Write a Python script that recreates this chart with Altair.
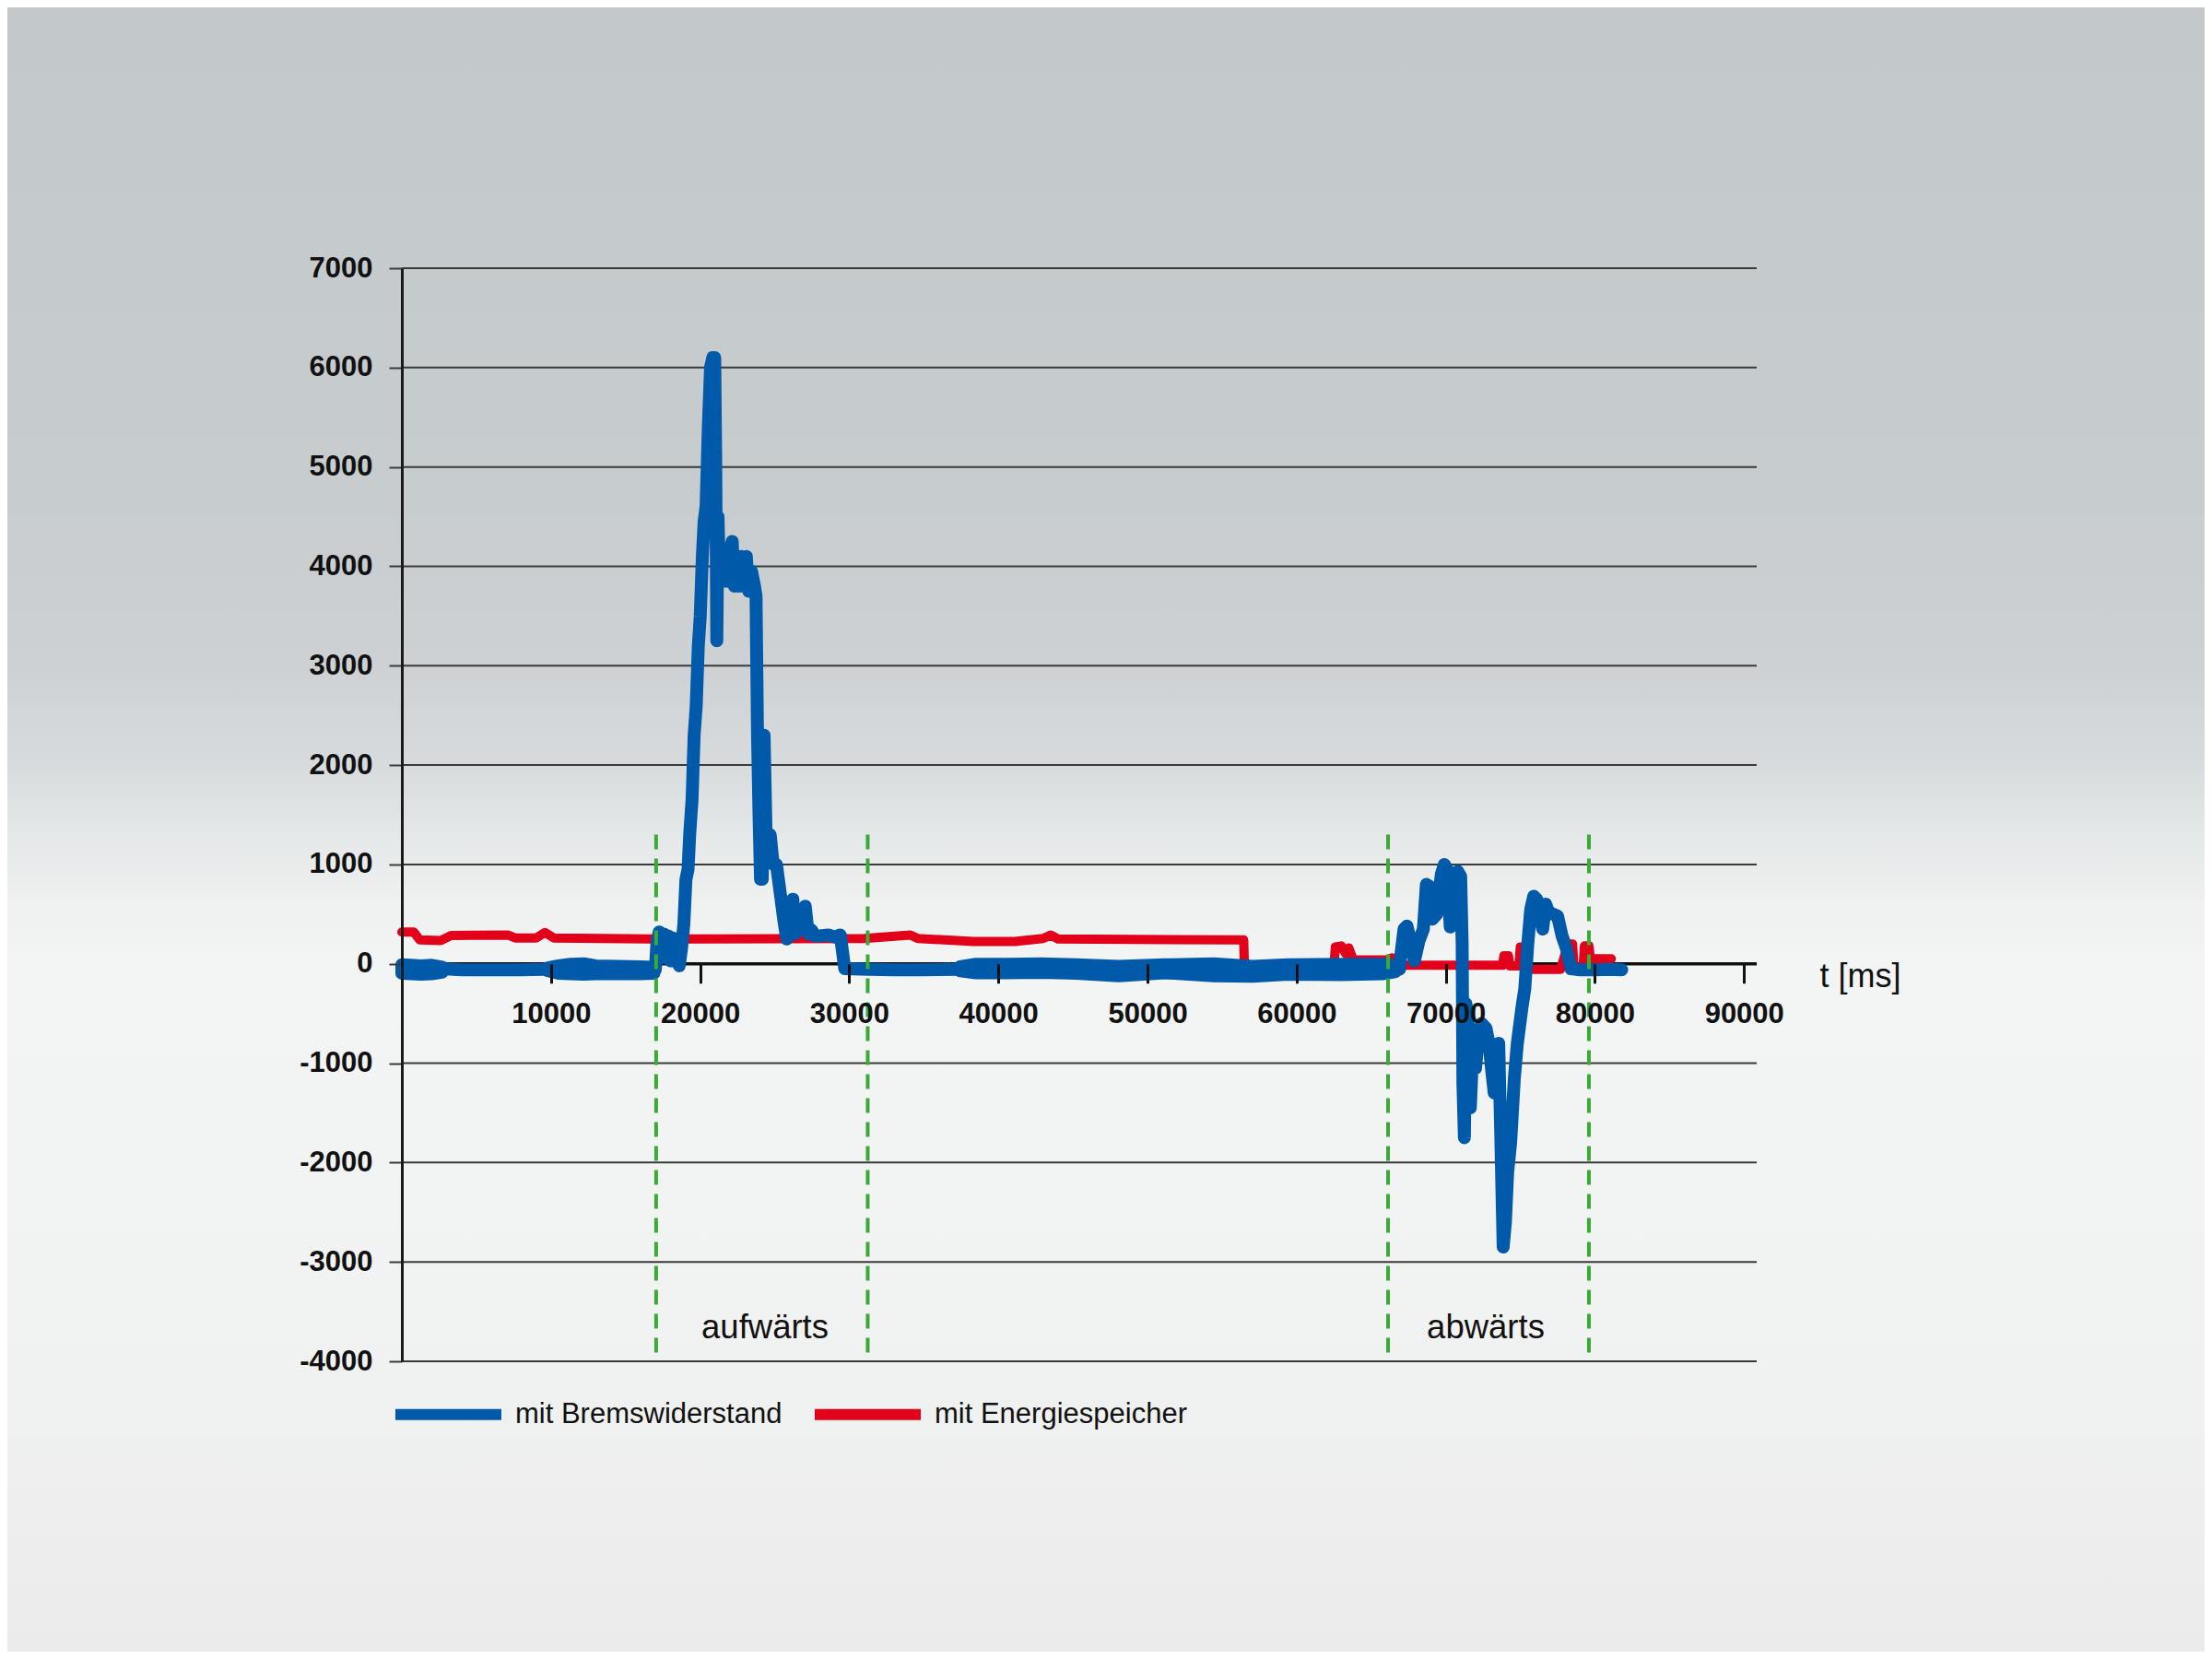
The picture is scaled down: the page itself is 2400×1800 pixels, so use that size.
import altair as alt
import pandas as pd

BLUE = "#005aa9"
RED = "#e3001b"
GREEN = "#3ba935"
INK = "#111111"
GRID = "#3a3a3a"
FONT = "Liberation Sans"

series_names = ["mit Bremswiderstand", "mit Energiespeicher"]

# --- blue series: mit Bremswiderstand (t in ms, value) ---
blue_t = [0, 1500, 2700, 4000, 6000, 8000, 9500, 10500, 12000, 13500, 15000, 16500, 17000,
          17100, 17250, 17400, 17550, 17700, 17850, 18000, 18150, 18300, 18450, 18600,
          18750, 18910, 19050, 19190, 19300, 19460, 19600, 19740, 19880, 20010, 20150, 20270,
          20400, 20550, 20700, 20850, 20980, 21050,
          21120, 21200, 21300, 21450, 21550, 21700, 21850, 22000, 22150, 22300, 22450, 22600,
          22750, 22900, 23100, 23250, 23450, 23650, 23750,
          23850, 23950, 24050, 24170, 24290, 24430, 24700, 24900, 25120, 25400, 25600, 25810,
          26000, 26220, 26350, 26500, 26800, 27050, 27250, 27470, 27700, 28020, 28600, 29000,
          29400, 29550, 29700,
          31300, 33000, 35000, 37400, 40000, 45000, 50000, 55000, 60000, 63000, 66000, 66900,
          67000, 67200, 67400, 67600, 67900, 68200, 68500, 68700, 68900, 69100, 69400, 69700,
          69900, 70100, 70300, 70500, 70800, 71000,
          71100, 71150, 71250, 71350, 71500, 71650, 71800, 72000, 72200, 72400, 72700, 72900,
          73100, 73250, 73400, 73550, 73700, 73850, 74000, 74150, 74350, 74600, 74800, 75100, 75300,
          75500, 75700, 75900, 76100, 76300, 76500, 76700, 76900, 77200, 77500, 77800, 78100,
          78400, 79000, 80000, 81000, 81800]
blue_v = [-50, -55, -50, -60, -60, -60, -55, -45, -35, -50, -55, -60, -60,
          200, 320, 60, 300, 80, 280, 30, 260, 50, 200, -20,
          150, 400, 850, 950, 1300, 1650, 2300, 2600, 3200, 3500, 4100, 4450,
          4600, 5400, 6000, 6100, 6100, 5000,
          3250, 4500, 3900, 4150, 3850, 4100, 3850, 4150, 4250, 3800, 4050, 3800,
          4100, 3800, 4100, 3750, 3950, 3800, 3700,
          2300, 1500, 850, 850, 2300, 1250, 1300, 1000, 1000, 680, 450, 250,
          400, 650, 300, 350, 450, 580, 300, 340, 280, 280, 290, 270,
          290, 120, -50,
          -55, -60, -60, -55, -50, -55, -50, -55, -55, -50, -55, -55,
          100, 350, 380, 250, 30, 230, 350, 800, 780, 450, 500, 900,
          1000, 950, 370, 700, 930, 880,
          200, -1200, -1750, -400, -600, -1450, -900, -1050, -700, -600, -650, -800,
          -1100, -1300, -900, -800, -1800, -2850, -2600, -2100, -1800, -1150, -800, -450, -250,
          200, 550, 680, 650, 520, 350, 600, 520, 500, 480, 280, 150,
          -50, -60, -60, -55, -60]

# noisy stretches of the blue series, drawn as min/max envelope
band_seg = ["a"] * 5 + ["b"] * 8 + ["c"] * 13
band_t = [0, 600, 1300, 2000, 2700,
          9800, 10500, 11300, 12200, 13000, 14500, 16000, 16900,
          37430, 38500, 40480, 42870, 45230, 48070, 51150, 54450, 57050, 59420, 62980, 65760, 66600]
band_hi = [-10, -15, -20, -15, -35,
           -40, -20, -5, 0, -20, -25, -30, -35,
           -30, -5, -5, 0, -10, -25, -10, 0, -25, -10, -5, -5, -20]
band_lo = [-95, -100, -105, -100, -85,
           -70, -95, -100, -105, -100, -100, -100, -95,
           -70, -90, -90, -85, -95, -120, -90, -120, -125, -105, -110, -100, -80]

# --- red series: mit Energiespeicher ---
red_t = [0, 800, 1200, 2600, 3300, 7100, 7600, 9000, 9600, 10200, 16600, 31000, 34100, 34600,
         38300, 41100, 43000, 43500, 44000, 56300, 56450, 56500, 62500, 62600, 63000, 63300,
         63500, 63800, 66000, 66400, 66800, 73800, 73900, 74200, 74300, 74900, 75000, 75300,
         75350, 77700, 78200, 78500, 78600, 79200, 79300, 79600, 79700, 81100]
red_v = [320, 320, 240, 235, 285, 290, 260, 260, 315, 260, 250, 255, 290, 255,
         225, 225, 255, 290, 250, 240, 240, -20, -20, 170, 180, 100,
         160, 40, 40, 60, -15, -15, 80, 80, -20, -20, 170, 170,
         -55, -55, 200, 200, -50, -50, 180, 180, 50, 50]

y_ticks = [-4000, -3000, -2000, -1000, 0, 1000, 2000, 3000, 4000, 5000, 6000, 7000]
x_ticks = [10000, 20000, 30000, 40000, 50000, 60000, 70000, 80000, 90000]

phase_t = [17050, 31240, 66130, 79600]
phase_top = 1300
phase_bottom = -4000

ann_text = ["aufwärts", "abwärts"]
ann_t = [24350, 72680]
ann_v = [-3670, -3670]

# --- frames ---
lines = pd.concat([
    pd.DataFrame({"t": blue_t, "v": blue_v, "s": series_names[0]}),
    pd.DataFrame({"t": red_t, "v": red_v, "s": series_names[1]}),
])
band = pd.DataFrame({"seg": band_seg, "t": band_t, "hi": band_hi, "lo": band_lo})
grid = pd.DataFrame({"v": [v for v in y_ticks if v != 0]})
phases = pd.DataFrame({"t": phase_t, "top": phase_top, "bottom": phase_bottom})
anns = pd.DataFrame({"label": ann_text, "t": ann_t, "v": ann_v})
one = pd.DataFrame({"a": [0]})

W, H = 1470, 1186
X_MAX = 90850
zero_offset = -(H * 4000 / 11000)

xs = alt.Scale(domain=[0, X_MAX], nice=False, zero=False)
ys = alt.Scale(domain=[-4000, 7000], nice=False, zero=False)

x_axis = alt.Axis(values=x_ticks, offset=zero_offset, domain=False, grid=False,
                  tickColor=INK, tickWidth=3, tickSize=21,
                  labelFont=FONT, labelFontWeight="bold", labelFontSize=31, labelColor=INK,
                  labelBaseline="middle", labelPadding=34, labelFlush=False, labelOverlap=False,
                  labelExpr="datum.value + ''",
                  title="t [ms]", titleFont=FONT, titleFontSize=36, titleFontWeight="normal",
                  titleColor=INK, titleX=1538, titleY=14, titleAlign="left",
                  titleBaseline="middle", titleAngle=0, zindex=1)
y_axis = alt.Axis(values=y_ticks, domain=True, domainColor="#1a1a1a", domainWidth=3,
                  grid=False, tickColor=GRID, tickWidth=2, tickSize=14,
                  labelFont=FONT, labelFontWeight="bold", labelFontSize=31, labelColor=INK,
                  labelPadding=18, labelExpr="datum.value + ''", title=None, zindex=1)

X = lambda f: alt.X(f, scale=xs, axis=x_axis)
Y = lambda f: alt.Y(f, scale=ys, axis=y_axis)

gradient = alt.LinearGradient(
    gradient="linear", x1=0, x2=0, y1=0, y2=1,
    stops=[
        alt.GradientStop(color="#c3c8cb", offset=0.0),
        alt.GradientStop(color="#c7ccce", offset=0.30),
        alt.GradientStop(color="#cdd1d3", offset=0.40),
        alt.GradientStop(color="#d8dbdd", offset=0.46),
        alt.GradientStop(color="#e4e7e7", offset=0.50),
        alt.GradientStop(color="#eef0f0", offset=0.54),
        alt.GradientStop(color="#f3f4f4", offset=0.58),
        alt.GradientStop(color="#f1f2f2", offset=0.8),
        alt.GradientStop(color="#ebebeb", offset=1.0),
    ],
)

bg = alt.Chart(one).mark_rect(color=gradient).encode(
    x=alt.value(-428), x2=alt.value(W + 486), y=alt.value(-283), y2=alt.value(H + 315)
)

grid_layer = alt.Chart(grid).mark_rule(color=GRID, strokeWidth=2).encode(y=Y("v:Q"))
zero_layer = alt.Chart(one).mark_rule(color=INK, strokeWidth=3.5).encode(
    y=alt.Y(datum=0, scale=ys, axis=y_axis))

color = alt.Color("s:N", scale=alt.Scale(domain=series_names, range=[BLUE, RED]),
                  legend=alt.Legend(orient="none", legendX=-13, legendY=1180, direction="horizontal",
                                    title=None, symbolType="stroke", symbolSize=13225,
                                    symbolStrokeWidth=12, labelFont=FONT, labelFontSize=31,
                                    labelColor=INK, labelOffset=9, columnPadding=11,
                                    labelLimit=0))

red_layer = alt.Chart(lines).transform_filter(alt.datum.s == series_names[1]).mark_line(
    strokeWidth=10, strokeCap="round", strokeJoin="round"
).encode(x=X("t:Q"), y=Y("v:Q"), color=color, order="t:Q")

band_layer = alt.Chart(band).mark_area(
    color=BLUE, stroke=BLUE, strokeWidth=14, strokeJoin="round", opacity=1
).encode(x=X("t:Q"), y=Y("hi:Q"), y2="lo:Q", detail="seg:N")

blue_layer = alt.Chart(lines).transform_filter(alt.datum.s == series_names[0]).mark_line(
    strokeWidth=14, strokeCap="round", strokeJoin="round"
).encode(x=X("t:Q"), y=Y("v:Q"), color=color, order="t:Q")

phase_layer = alt.Chart(phases).mark_rule(color=GREEN, strokeWidth=4, strokeDash=[16, 10]).encode(
    x=X("t:Q"), y=Y("top:Q"), y2="bottom:Q"
)

ann_layer = alt.Chart(anns).mark_text(font=FONT, fontSize=36.5, color=INK).encode(
    x=X("t:Q"), y=Y("v:Q"), text="label:N"
)

chart = alt.layer(
    bg, grid_layer, zero_layer, red_layer, band_layer, blue_layer, phase_layer, ann_layer
).properties(
    width=W, height=H,
    padding={"left": 428, "top": 283, "right": 486, "bottom": 315},
    autosize=alt.AutoSizeParams(type="none"),
).configure_view(stroke=None).configure(background="#eeefef")

chart.save("out.html", embed_options={"renderer": "svg", "actions": False})
